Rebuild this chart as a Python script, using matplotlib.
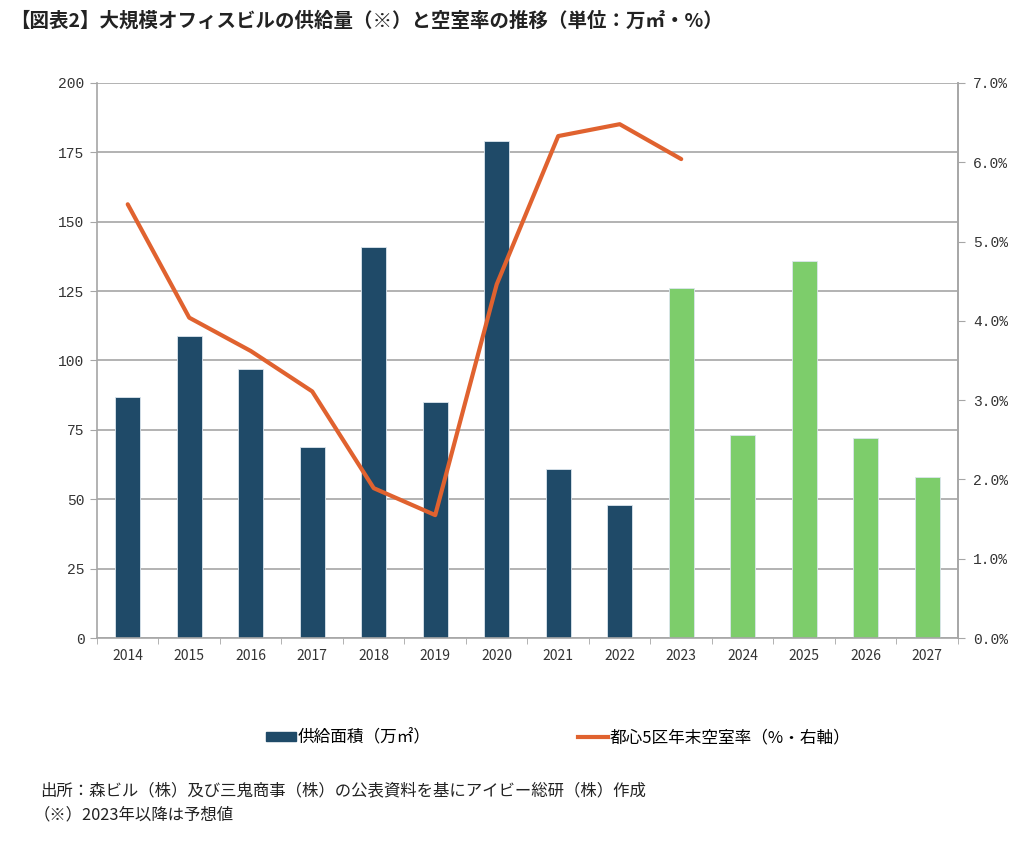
import matplotlib

matplotlib.use("Agg")
import matplotlib.pyplot as plt
import numpy as np
from matplotlib.lines import Line2D
from matplotlib.patches import Patch
from matplotlib.ticker import FuncFormatter

plt.rcParams["font.family"] = ["Noto Sans CJK JP", "DejaVu Sans"]

years = ["2014", "2015", "2016", "2017", "2018", "2019", "2020",
         "2021", "2022", "2023", "2024", "2025", "2026", "2027"]
supply = [87, 109, 97, 69, 141, 85, 179, 61, 48, 126, 73, 136, 72, 58]
forecast_from = "2023"
vacancy = [5.47, 4.04, 3.62, 3.11, 1.89, 1.55, 4.46, 6.33, 6.48, 6.04]

DARK = "#1F4A68"
GREEN = "#7DCD6B"
ORANGE = "#E0622F"
GRID = "#A6A6A6"

fig = plt.figure(figsize=(10.24, 8.5), dpi=100)
ax = fig.add_axes([0.0947, 0.2494, 0.8408, 0.653])

x = np.arange(len(years))
cut = years.index(forecast_from)
colors = [DARK if i < cut else GREEN for i in range(len(years))]
ax.bar(x, supply, width=0.41, color=colors, edgecolor="#DCE6EE", linewidth=0.6, zorder=2)

ax.set_ylim(0, 200)
ax.set_yticks(np.arange(0, 201, 25))
ax.set_xlim(-0.5, len(years) - 0.5)
ax.set_xticks(x)
ax.set_xticklabels(years, fontsize=10, color="#333333")
ax.set_xticks(np.arange(-0.5, len(years), 1), minor=True)
ax.tick_params(axis="x", which="major", length=0, pad=8)
ax.tick_params(axis="x", which="minor", length=4, color=GRID, direction="out")
ax.tick_params(axis="y", length=5, color=GRID, direction="out", pad=4)
for lab in ax.get_yticklabels():
    lab.set_family("Liberation Mono")
    lab.set_fontsize(10.5)
    lab.set_color("#333333")
ax.grid(axis="y", color=GRID, linewidth=1.2, zorder=0)
ax.set_axisbelow(True)
for side in ["left", "bottom", "right"]:
    ax.spines[side].set_color(GRID)
    ax.spines[side].set_linewidth(1.2)
ax.spines["top"].set_visible(False)

ax2 = ax.twinx()
ax2.plot(x[: len(vacancy)], vacancy, color=ORANGE, linewidth=3, solid_capstyle="round", zorder=3)
ax2.set_ylim(0, 7)
ax2.set_yticks(np.arange(0, 7.1, 1))
ax2.yaxis.set_major_formatter(FuncFormatter(lambda v, p: f"{v:.1f}%"))
ax2.tick_params(axis="y", length=5, color=GRID, direction="out", pad=6)
for lab in ax2.get_yticklabels():
    lab.set_family("Liberation Mono")
    lab.set_fontsize(10.5)
    lab.set_color("#333333")
for side in ["left", "bottom", "right", "top"]:
    ax2.spines[side].set_visible(False)
ax2.spines["right"].set_visible(True)
ax2.spines["right"].set_color(GRID)
ax2.spines["right"].set_linewidth(1.2)

handles = [
    Patch(facecolor=DARK, edgecolor=DARK),
    Line2D([0], [0], color=ORANGE, linewidth=3),
]
fig.legend(
    handles,
    ["供給面積（万㎡）", "都心5区年末空室率（%・右軸）"],
    loc="center",
    bbox_to_anchor=(0.545, 0.132),
    ncol=2,
    frameon=False,
    fontsize=12,
    handlelength=1.8,
    handleheight=0.45,
    handletextpad=0.1,
    columnspacing=8.8,
)

fig.text(0.01, 0.976, "【図表2】大規模オフィスビルの供給量（※）と空室率の推移（単位：万㎡・%）",
         fontsize=14, fontweight="bold", va="center", ha="left", color="#222222")
fig.text(0.039, 0.07, "出所：森ビル（株）及び三鬼商事（株）の公表資料を基にアイビー総研（株）作成",
         fontsize=11.8, va="center", ha="left", color="#222222")
fig.text(0.033, 0.041, "（※）2023年以降は予想値",
         fontsize=11.8, va="center", ha="left", color="#222222")

fig.savefig("out.png", dpi=100)
